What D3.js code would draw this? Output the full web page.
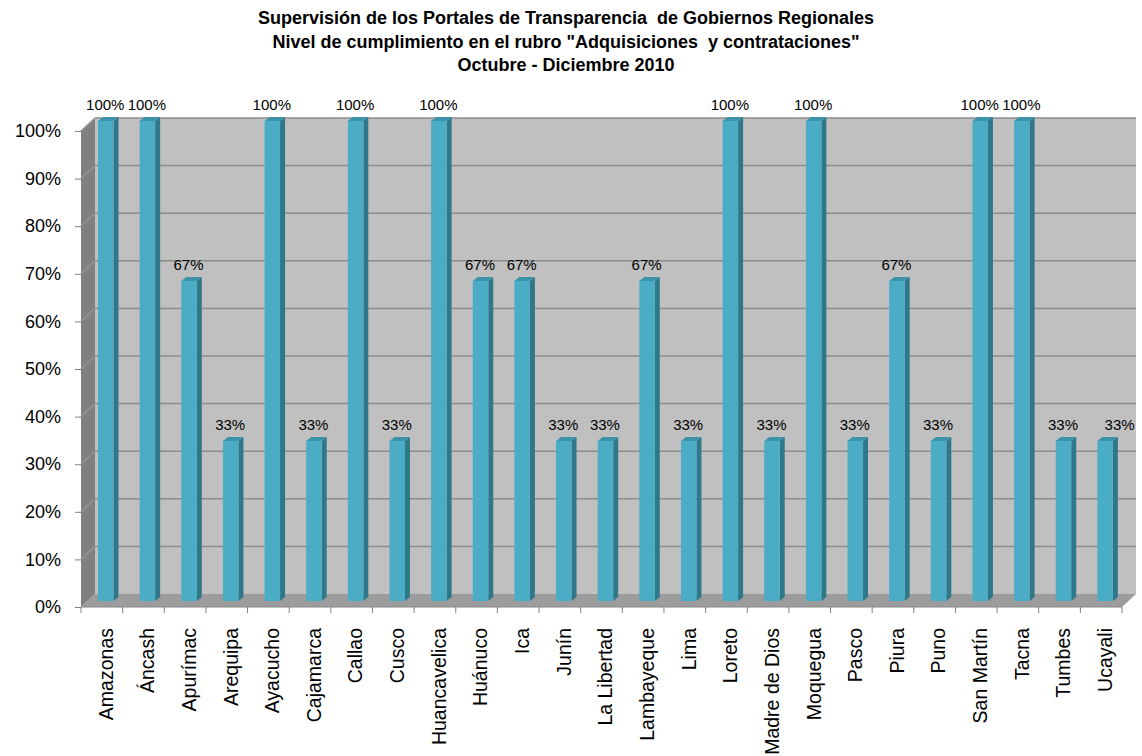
<!DOCTYPE html>
<html>
<head>
<meta charset="utf-8">
<script src="https://cdn.jsdelivr.net/npm/d3@7"></script>
<style>
  body { margin: 0; background: #fff; }
  svg text { font-family: "Liberation Sans", Arial, sans-serif; white-space: pre; }
</style>
</head>
<body>
<svg id="chart" width="1142" height="756"></svg>
<script>
// data
var categories = ["Amazonas", "Áncash", "Apurímac", "Arequipa", "Ayacucho", "Cajamarca", "Callao",
  "Cusco", "Huancavelica", "Huánuco", "Ica", "Junín", "La Libertad", "Lambayeque", "Lima",
  "Loreto", "Madre de Dios", "Moquegua", "Pasco", "Piura", "Puno", "San Martín", "Tacna",
  "Tumbes", "Ucayali"];
var values = [100, 100, 66.67, 33.33, 100, 33.33, 100, 33.33, 100, 66.67, 66.67, 33.33, 33.33,
  66.67, 33.33, 100, 33.33, 100, 33.33, 66.67, 33.33, 100, 100, 33.33, 33.33];
var yTicks = [0, 10, 20, 30, 40, 50, 60, 70, 80, 90, 100];
var titleLines = [
  "Supervisión de los Portales de Transparencia  de Gobiernos Regionales",
  "Nivel de cumplimiento en el rubro \"Adquisiciones  y contrataciones\"",
  "Octubre - Diciembre 2010"
];

var svg = d3.select("#chart");

// front edge of the plot box and the depth offset of the 3d walls
var x = d3.scaleBand().domain(categories).range([81, 1122]);
var y = d3.scaleLinear().domain([0, 100]).range([607, 131]);
var yBar = d3.scaleLinear().domain([0, 100]).range([601, 121]);
var dx = 14, dy = -13;
var left = 81, right = 1122;

var fmt = function(v){ return d3.format(".0f")(v) + "%"; };

// title
svg.append("g").selectAll("text").data(titleLines).enter().append("text")
  .attr("x", 566)
  .attr("y", function(d, i){ return 24 + i * 23.5; })
  .attr("text-anchor", "middle")
  .style("font-weight", "bold")
  .style("font-size", "18px")
  .text(function(d){ return d; });

// walls
svg.append("rect")
  .attr("x", left + dx).attr("y", y(100) + dy)
  .attr("width", right - left).attr("height", y(0) - y(100))
  .attr("fill", "#c0c0c0");

svg.append("polygon")
  .attr("points", [[left, y(100)], [left + dx, y(100) + dy], [left + dx, y(0) + dy], [left, y(0)]].join(" "))
  .attr("fill", "#808080");

svg.append("polygon")
  .attr("points", [[left, y(0)], [right, y(0)], [right + dx, y(0) + dy], [left + dx, y(0) + dy]].join(" "))
  .attr("fill", "#9c9c9c");

// gridlines on back and left wall
var grid = svg.append("g");
grid.selectAll("line.back").data(yTicks.slice(1)).enter().append("line")
  .attr("class", "back")
  .attr("x1", left + dx).attr("x2", right + dx)
  .attr("y1", function(d){ return y(d) + dy; })
  .attr("y2", function(d){ return y(d) + dy; })
  .attr("stroke", "#8c8c8c").attr("stroke-width", 1.5);
grid.selectAll("line.side").data(yTicks.slice(1)).enter().append("line")
  .attr("class", "side")
  .attr("x1", left).attr("x2", left + dx)
  .attr("y1", function(d){ return y(d); })
  .attr("y2", function(d){ return y(d) + dy; })
  .attr("stroke", "#949494").attr("stroke-width", 1.5);

// floor front edge
svg.append("line")
  .attr("x1", left).attr("x2", right).attr("y1", y(0)).attr("y2", y(0))
  .attr("stroke", "#858585").attr("stroke-width", 1);

// axes (ticks + labels)
var yAxis = d3.axisLeft(y).tickValues(yTicks).tickSize(6).tickPadding(14).tickFormat(fmt);
var gy = svg.append("g").attr("transform", "translate(" + left + ",0)").call(yAxis);
gy.select(".domain").remove();
gy.selectAll(".tick line").attr("stroke", "#808080");
gy.selectAll(".tick text")
  .style("font-size", "18px")
  .attr("fill", "#000");

var xAxis = d3.axisBottom(x).tickSize(0).tickPadding(0);
var gx = svg.append("g").attr("transform", "translate(0," + y(0) + ")").call(xAxis);
gx.select(".domain").remove();
gx.selectAll(".tick text")
  .style("font-size", "19.5px")
  .attr("fill", "#000")
  .attr("text-anchor", "end")
  .attr("transform", "translate(4,21) rotate(-90)")
  .attr("x", 0).attr("y", 0).attr("dy", "0.35em");

// category boundary ticks
svg.append("g").selectAll("line").data(d3.range(categories.length + 1)).enter().append("line")
  .attr("x1", function(i){ return left + i * x.step(); })
  .attr("x2", function(i){ return left + i * x.step(); })
  .attr("y1", y(0)).attr("y2", y(0) + 6)
  .attr("stroke", "#808080");

// bars: front face, side and top
var bw = 15.5, bdx = 5, bdy = -4, boff = 17;
var bars = svg.append("g").selectAll("g").data(categories).enter().append("g");

bars.append("polygon")
  .attr("points", function(c, i){
    var x0 = x(c) + boff + bw, yt = yBar(values[i]), yb = yBar(0);
    return [[x0, yt], [x0 + bdx, yt + bdy], [x0 + bdx, yb + bdy], [x0, yb]].join(" ");
  })
  .attr("fill", "#2f7889");

bars.append("polygon")
  .attr("points", function(c, i){
    var x0 = x(c) + boff, yt = yBar(values[i]);
    return [[x0, yt], [x0 + bdx, yt + bdy], [x0 + bw + bdx, yt + bdy], [x0 + bw, yt]].join(" ");
  })
  .attr("fill", "#3c93a9");

bars.append("rect")
  .attr("x", function(c){ return x(c) + boff; })
  .attr("y", function(c, i){ return yBar(values[i]); })
  .attr("width", bw)
  .attr("height", function(c, i){ return yBar(0) - yBar(values[i]); })
  .attr("fill", "#4bacc6");

// value labels (the last one sits past the bar, as in the picture)
bars.append("text")
  .attr("x", function(c, i){
    var cx = x(c) + boff + (bw + bdx) / 2 - 3;
    return i === categories.length - 1 ? cx + 15 : cx;
  })
  .attr("y", function(c, i){ return yBar(values[i]) - 11; })
  .attr("text-anchor", "middle")
  .style("font-size", "15px")
  .text(function(c, i){ return fmt(values[i]); });
</script>
</body>
</html>
